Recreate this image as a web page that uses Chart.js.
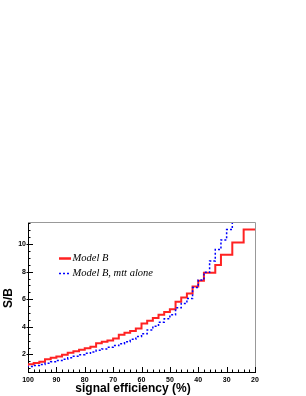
<!DOCTYPE html>
<html>
<head>
<meta charset="utf-8">
<script src="https://cdn.jsdelivr.net/npm/chart.js@4"></script>
<style>
  html, body { margin: 0; padding: 0; background: #fff; }
  #c { display: block; }
</style>
</head>
<body>
<canvas id="c" width="306" height="396"></canvas>
<script>
// Bin edges of the signal efficiency (%) histogram, left (100) to right (20)
const binEdges = [100, 98, 96, 94, 92, 90, 88, 86, 84, 82, 80, 78, 76, 74, 72, 70, 68, 66, 64, 62,
                  60, 58, 56, 54, 52, 50, 48, 46, 44, 42, 40, 38, 36, 34, 32, 30, 28, 26, 24, 22, 20];

// S/B per bin, "Model B"
const modelB = [1.15, 1.30, 1.39, 1.47, 1.66, 1.76, 1.85, 1.98, 2.12, 2.24,
                2.34, 2.46, 2.56, 2.82, 2.92, 3.02, 3.16, 3.43, 3.58, 3.70,
                3.89, 4.25, 4.45, 4.65, 4.88, 5.08, 5.28, 5.82, 6.12, 6.42,
                6.92, 7.35, 7.92, 7.92, 8.48, 9.22, 9.22, 10.12, 10.12, 11.05];

// S/B per bin, "Model B, mtt alone" (last bin runs off the top of the frame)
const modelBmtt = [1.05, 1.13, 1.20, 1.28, 1.37, 1.47, 1.57, 1.66, 1.76, 1.87,
                   1.98, 2.08, 2.18, 2.30, 2.40, 2.52, 2.65, 2.78, 2.93, 3.10,
                   3.30, 3.50, 3.78, 4.05, 4.33, 4.58, 4.88, 5.38, 5.70, 6.05,
                   6.85, 7.40, 7.95, 8.78, 9.60, 10.30, 11.05, 12.5];

const seriesLabels = ["Model B", "Model B, mtt alone"];
const xTickValues = [100, 90, 80, 70, 60, 50, 40, 30, 20];
const yTickValues = [2, 4, 6, 8, 10];
const xTitle = "signal efficiency (%)";
const yTitle = "S/B";

function histPoints(vals) {
  const pts = vals.map((v, i) => ({ x: binEdges[i], y: v }));
  pts.push({ x: binEdges[vals.length], y: vals[vals.length - 1] });
  return pts;
}

const frameAndDecor = {
  id: 'frameAndDecor',
  afterDraw(chart) {
    const ctx = chart.ctx;
    const a = chart.chartArea;
    const xs = chart.scales.x, ys = chart.scales.y;
    ctx.save();
    // top/right frame
    ctx.strokeStyle = '#999';
    ctx.lineWidth = 1;
    ctx.beginPath();
    ctx.moveTo(a.left, a.top + 0.5);
    ctx.lineTo(a.right + 0.5, a.top + 0.5);
    ctx.lineTo(a.right + 0.5, a.bottom);
    ctx.stroke();
    // inward ticks
    ctx.strokeStyle = '#000';
    ctx.beginPath();
    for (let v = xs.min; v <= xs.max + 1e-9; v += 2) {
      const px = Math.round(xs.getPixelForValue(v)) + 0.5;
      const major = xTickValues.includes(v);
      ctx.moveTo(px, a.bottom);
      ctx.lineTo(px, a.bottom - (major ? 5 : 2.5));
    }
    for (let k = 1; k * 0.5 <= ys.max; k++) {
      const v = k * 0.5;
      if (v < ys.min) continue;
      const py = Math.round(ys.getPixelForValue(v)) + 0.5;
      const major = yTickValues.includes(v);
      ctx.moveTo(a.left - (major ? 1.5 : 0), py);
      ctx.lineTo(a.left + (major ? 5 : 2.5), py);
    }
    ctx.stroke();
    // axis titles
    ctx.fillStyle = '#000';
    ctx.font = 'bold 12px "Liberation Sans", Arial, sans-serif';
    ctx.textAlign = 'center';
    ctx.textBaseline = 'middle';
    ctx.fillText(xTitle, 133, 389);
    ctx.save();
    ctx.translate(9, 298);
    ctx.rotate(-Math.PI / 2);
    ctx.fillText(yTitle, 0, 0);
    ctx.restore();
    // legend
    const ds = chart.data.datasets;
    const rows = [258.5, 273.5];
    ds.forEach((d, i) => {
      const y = rows[i];
      ctx.save();
      ctx.strokeStyle = d.borderColor;
      ctx.lineWidth = d.borderWidth + (i === 0 ? 0.5 : 0);
      ctx.setLineDash(d.borderDash || []);
      ctx.beginPath();
      ctx.moveTo(59, y);
      ctx.lineTo(71, y);
      ctx.stroke();
      ctx.restore();
      ctx.font = 'italic 10.5px "Liberation Serif", "Times New Roman", serif';
      ctx.textAlign = 'left';
      ctx.textBaseline = 'middle';
      ctx.fillStyle = '#000';
      ctx.fillText(d.label, 72.5, y);
    });
    ctx.restore();
  }
};

new Chart(document.getElementById('c'), {
  type: 'line',
  data: {
    datasets: [
      {
        label: seriesLabels[0],
        data: histPoints(modelB),
        borderColor: '#ff2222',
        borderWidth: 2,
        stepped: 'after',
        pointRadius: 0,
        fill: false,
        order: 1
      },
      {
        label: seriesLabels[1],
        data: histPoints(modelBmtt),
        borderColor: '#0000ff',
        borderWidth: 1.5,
        borderDash: [2, 2],
        stepped: 'after',
        pointRadius: 0,
        fill: false,
        order: 0
      }
    ]
  },
  options: {
    responsive: false,
    devicePixelRatio: 1,
    animation: false,
    layout: { padding: { top: 222, right: 51, left: 0, bottom: 0 } },
    plugins: { legend: { display: false }, tooltip: { enabled: false } },
    scales: {
      x: {
        type: 'linear',
        reverse: true,
        min: 20,
        max: 100,
        grid: { display: false, drawTicks: false },
        border: { display: true, color: '#000', width: 1 },
        ticks: {
          color: '#000',
          font: { family: '"Liberation Sans", Arial, sans-serif', size: 7, weight: 'bold' },
          padding: 4,
          autoSkip: false,
          maxRotation: 0
        },
        afterBuildTicks(scale) { scale.ticks = xTickValues.map(v => ({ value: v })); },
        afterFit(scale) { scale.height = 24; }
      },
      y: {
        type: 'linear',
        min: 0.73,
        max: 11.6,
        grid: { display: false, drawTicks: false },
        border: { display: true, color: '#000', width: 1 },
        ticks: {
          color: '#000',
          font: { family: '"Liberation Sans", Arial, sans-serif', size: 7, weight: 'bold' },
          padding: 2
        },
        afterBuildTicks(scale) { scale.ticks = yTickValues.map(v => ({ value: v })); },
        afterFit(scale) { scale.width = 28; }
      }
    }
  },
  plugins: [frameAndDecor]
});
</script>
</body>
</html>
